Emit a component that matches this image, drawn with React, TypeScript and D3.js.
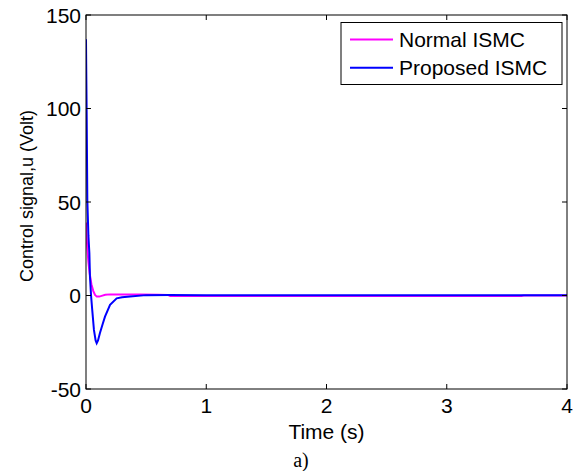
import React from "react";
import * as d3 from "d3";

const xTicks = [0, 1, 2, 3, 4];
const yTicks = [-50, 0, 50, 100, 150];

const normalT = [0, 0.004, 0.01, 0.02, 0.03, 0.045, 0.06, 0.075, 0.09, 0.11, 0.13, 0.16, 0.2, 0.3, 0.45, 0.6, 0.68, 0.7, 1.5, 2.5, 3.62, 3.64, 4];
const normalU = [39, 33, 26, 18, 12, 6, 2.5, 0.3, -0.6, -0.6, -0.2, 0.4, 0.6, 0.6, 0.5, 0.4, 0.3, -0.3, -0.3, -0.3, -0.3, 0, 0];

const blueT = [0, 0.003, 0.006, 0.011, 0.02, 0.028, 0.033, 0.042, 0.052, 0.066, 0.08, 0.089, 0.1, 0.116, 0.14, 0.158, 0.2, 0.255, 0.3, 0.366, 0.5, 0.7, 1, 2, 3, 4];
const blueU = [137, 115, 94, 51, 32, 22.7, 10, 0, -7.8, -18.4, -24, -25.5, -24, -20, -15, -11.3, -5, -1.5, -0.9, -0.6, 0.2, 0.3, 0.2, 0.2, 0.2, 0.2];

const legendLabels = ["Normal ISMC", "Proposed ISMC"];
const seriesColors = ["#ff00ff", "#0000ff"];

export default function App() {
  const W = 579, H = 471;
  const m = { left: 86, right: 567, top: 15, bottom: 389 };
  const x = d3.scaleLinear().domain([0, 4]).range([m.left, m.right]);
  const y = d3.scaleLinear().domain([-50, 150]).range([m.bottom, m.top]);
  const line = d3.line<[number, number]>().x(d => x(d[0])).y(d => y(d[1]));
  const normal = normalT.map((t, i) => [t, normalU[i]] as [number, number]);
  const blue = blueT.map((t, i) => [t, blueU[i]] as [number, number]);
  const font = "'Liberation Sans', Arial, sans-serif";
  const tl = 5;
  return (
    <svg width={W} height={H} style={{ position: "absolute", left: 0, top: 0, background: "#fff" }}>
      <rect x={0} y={0} width={W} height={H} fill="#fff" />
      <defs>
        <clipPath id="clip">
          <rect x={m.left} y={m.top} width={m.right - m.left} height={m.bottom - m.top} />
        </clipPath>
      </defs>
      <g clipPath="url(#clip)">
        <path d={line(normal) || ""} fill="none" stroke={seriesColors[0]} strokeWidth={2} />
        <path d={line(blue) || ""} fill="none" stroke={seriesColors[1]} strokeWidth={2} />
      </g>
      <rect x={m.left} y={m.top} width={m.right - m.left} height={m.bottom - m.top} fill="none" stroke="#000" strokeWidth={1} />
      {xTicks.map(t => (
        <g key={"x" + t}>
          <line x1={x(t)} x2={x(t)} y1={m.bottom} y2={m.bottom - tl} stroke="#000" />
          <line x1={x(t)} x2={x(t)} y1={m.top} y2={m.top + tl} stroke="#000" />
          <text x={x(t)} y={413} textAnchor="middle" fontFamily={font} fontSize={21}>{t}</text>
        </g>
      ))}
      {yTicks.map(t => (
        <g key={"y" + t}>
          <line x1={m.left} x2={m.left + tl} y1={y(t)} y2={y(t)} stroke="#000" />
          <line x1={m.right} x2={m.right - tl} y1={y(t)} y2={y(t)} stroke="#000" />
          <text x={81} y={y(t) + 7.5} textAnchor="end" fontFamily={font} fontSize={21}>{t}</text>
        </g>
      ))}
      <text x={(m.left + m.right) / 2} y={439} textAnchor="middle" fontFamily={font} fontSize={21}>Time (s)</text>
      <text transform={`translate(33,196) rotate(-90)`} textAnchor="middle" fontFamily={font} fontSize={18}>Control signal,u (Volt)</text>
      <text x={301} y={467} textAnchor="middle" fontFamily="'Liberation Serif', 'Times New Roman', serif" fontSize={20}>a)</text>
      <g>
        <rect x={341} y={22.5} width={221} height={62} fill="#fff" stroke="#000" strokeWidth={1} />
        {legendLabels.map((lab, i) => (
          <g key={lab}>
            <line x1={350} x2={393} y1={39.5 + i * 28.3} y2={39.5 + i * 28.3} stroke={seriesColors[i]} strokeWidth={2} />
            <text x={399} y={39.5 + i * 28.3 + 7.5} fontFamily={font} fontSize={21}>{lab}</text>
          </g>
        ))}
      </g>
    </svg>
  );
}
